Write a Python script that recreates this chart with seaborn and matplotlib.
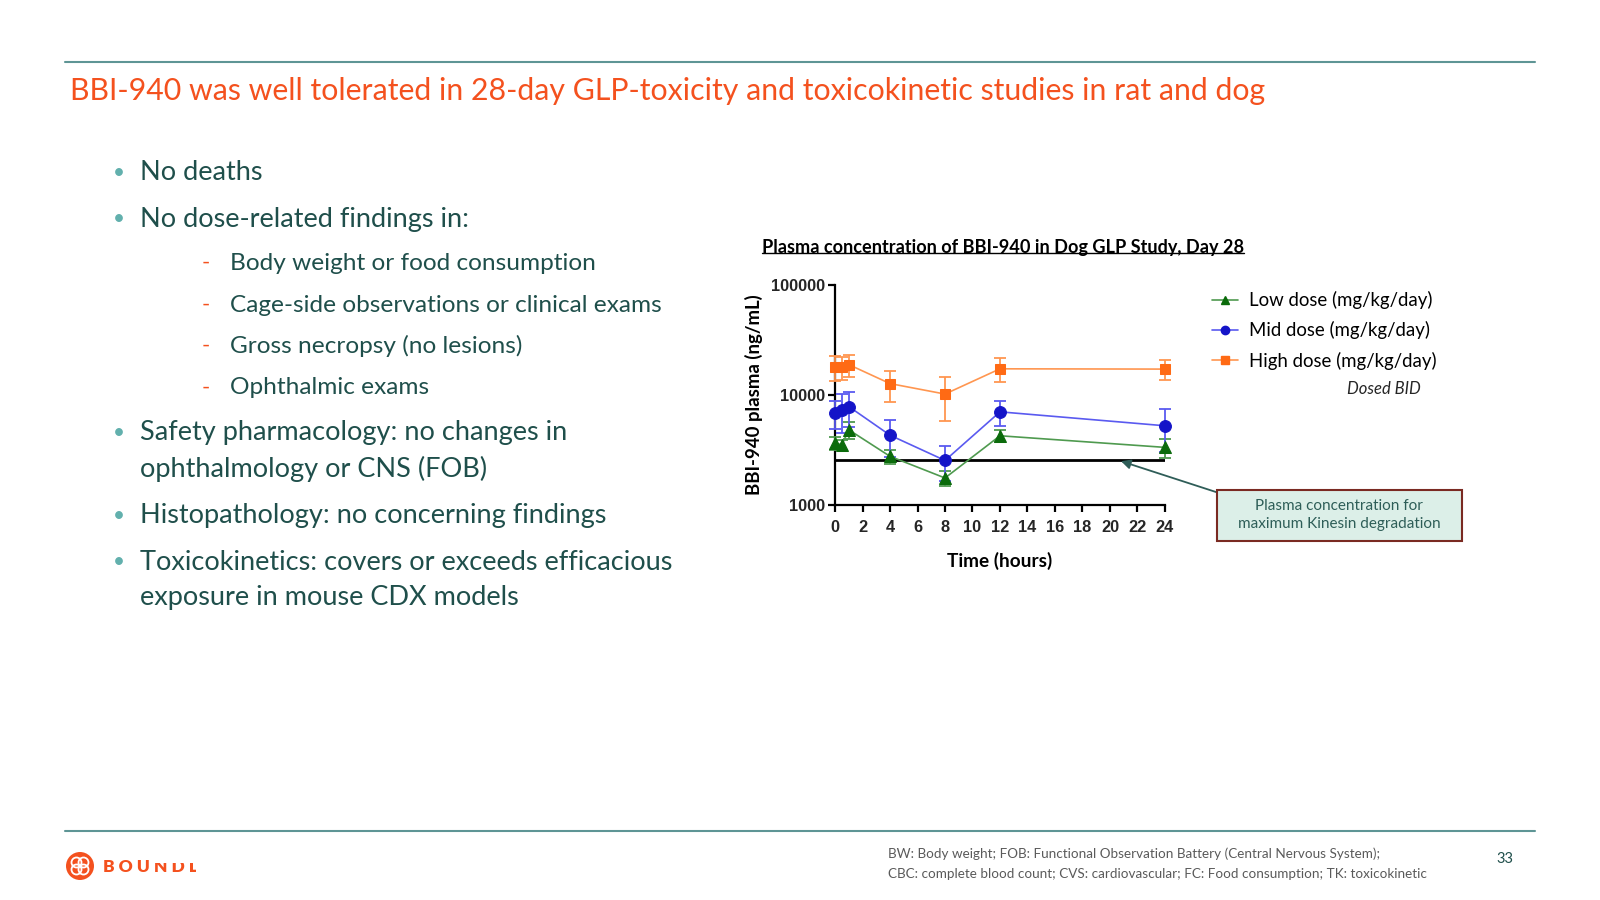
import numpy as np
import pandas as pd
import matplotlib
matplotlib.use('Agg')
import matplotlib.pyplot as plt
import seaborn as sns
from matplotlib.patches import Rectangle, Circle
from matplotlib.lines import Line2D
from matplotlib.ticker import NullLocator

# ---- data ----
times = [0, 0.5, 1, 4, 8, 12, 24]
low_mean = [3650, 3530, 4830, 2770, 1760, 4260, 3340]
low_sd = [500, 380, 870, 400, 260, 520, 650]
mid_mean = [6840, 7330, 7860, 4310, 2540, 7030, 5250]
mid_sd = [1900, 2800, 2700, 1560, 870, 1850, 2230]
high_mean = [17900, 17900, 18900, 12700, 10200, 17300, 17200]
high_sd = [4500, 4200, 4300, 4000, 4450, 4250, 3500]
threshold = 2580  # plasma conc. for maximum Kinesin degradation

dose_labels = ['Low dose (mg/kg/day)', 'Mid dose (mg/kg/day)', 'High dose (mg/kg/day)']
x_ticks = list(range(0, 25, 2))
y_ticks = [1000, 10000, 100000]
y_ticklabels = ['1000', '10000', '100000']

slide_title = 'BBI-940 was well tolerated in 28-day GLP-toxicity and toxicokinetic studies in rat and dog'
chart_title = 'Plasma concentration of BBI-940 in Dog GLP Study, Day 28'
bullet_lines = [
    (0, 'No deaths'),
    (0, 'No dose-related findings in:'),
    (1, 'Body weight or food consumption'),
    (1, 'Cage-side observations or clinical exams'),
    (1, 'Gross necropsy (no lesions)'),
    (1, 'Ophthalmic exams'),
    (0, 'Safety pharmacology: no changes in'),
    (2, 'ophthalmology or CNS (FOB)'),
    (0, 'Histopathology: no concerning findings'),
    (0, 'Toxicokinetics: covers or exceeds efficacious'),
    (2, 'exposure in mouse CDX models'),
]
bullet_y = [173, 219, 263, 305, 346, 388, 433, 469, 516, 562, 598]
footnote = ['BW: Body weight; FOB: Functional Observation Battery (Central Nervous System);',
            'CBC: complete blood count; CVS: cardiovascular; FC: Food consumption; TK: toxicokinetic']
box_text = 'Plasma concentration for\nmaximum Kinesin degradation'

line_colors = ['#4f9a4f', '#5a5af0', '#ff9650']
mark_colors = ['#0b6b0b', '#1414c8', '#ff6a14']
markers = ['^', 'o', 's']

W, H = 1600, 900
def fx(x):
    return x / W
def fy(y):
    return 1 - y / H

teal_dark = '#1f4f4b'
orange = '#f4511e'

sns.set_theme(style='ticks')
plt.rcParams['font.family'] = ['Lato', 'DejaVu Sans']

fig = plt.figure(figsize=(16, 9), dpi=100)
fig.patch.set_facecolor('white')

# header / footer rules
fig.add_artist(Line2D([fx(65), fx(1535)], [fy(62), fy(62)], color='#5e9595', lw=1.5))
fig.add_artist(Line2D([fx(65), fx(1535)], [fy(831), fy(831)], color='#5e9595', lw=1.5))
fig.text(fx(70), fy(91), slide_title, color=orange, fontsize=21.8, va='center')

# bullets
for (lvl, txt), y in zip(bullet_lines, bullet_y):
    if lvl == 0:
        fig.text(fx(113), fy(y), '•', color='#62b0ad', fontsize=15, va='center')
        fig.text(fx(140), fy(y), txt, color=teal_dark, fontsize=19.5, va='center')
    elif lvl == 1:
        fig.text(fx(202), fy(y), '-', color=orange, fontsize=16, va='center')
        fig.text(fx(230), fy(y), txt, color=teal_dark, fontsize=17.6, va='center')
    else:
        fig.text(fx(140), fy(y), txt, color=teal_dark, fontsize=19.5, va='center')

# ---- chart ----
ax = fig.add_axes([fx(835), fy(505), (1165 - 835) / W, (505 - 285) / H])
df = pd.DataFrame({
    'time': times * 3,
    'conc': low_mean + mid_mean + high_mean,
    'dose': [d for d in dose_labels for _ in times],
})
sns.lineplot(data=df, x='time', y='conc', hue='dose', hue_order=dose_labels,
             palette=line_colors, ax=ax, lw=1.2, legend=False)
for ln, mk, mc in zip(ax.lines[:3], markers, mark_colors):
    ln.set_marker(mk)
    ln.set_markersize(8.5 if mk != 's' else 7.5)
    ln.set_markerfacecolor(mc)
    ln.set_markeredgecolor(mc)
    ln.set_clip_on(False)
    ln.set_zorder(4)

for mean, sd, c in zip([low_mean, mid_mean, high_mean], [low_sd, mid_sd, high_sd], line_colors):
    eb = ax.errorbar(times, mean, yerr=sd, fmt='none', ecolor=c, elinewidth=1.3,
                     capsize=4, capthick=1.3, zorder=3)
    for art in eb.lines[1] + eb.lines[2]:
        art.set_clip_on(False)

ax.hlines(threshold, 0, 24, color='black', lw=2, zorder=2)

ax.set_yscale('log')
ax.set_ylim(1000, 100000)
ax.set_xlim(0, 24)
ax.set_xticks(x_ticks)
ax.set_yticks(y_ticks)
ax.set_yticklabels(y_ticklabels)
ax.yaxis.set_minor_locator(NullLocator())
sns.despine(ax=ax)
for s in ['left', 'bottom']:
    ax.spines[s].set_linewidth(1.6)
    ax.spines[s].set_color('black')
ax.tick_params(direction='out', length=5, width=1.6, color='black')
ax.tick_params(axis='x', pad=6)
ax.tick_params(axis='y', pad=2)
for lbl in ax.get_xticklabels() + ax.get_yticklabels():
    lbl.set_family(['Liberation Sans', 'DejaVu Sans'])
    lbl.set_fontweight('bold')
    lbl.set_fontsize(11.8)
ax.set_xlabel('Time (hours)', fontsize=13.7, fontweight='bold', labelpad=12, color='black')
ax.set_ylabel('BBI-940 plasma (ng/mL)', fontsize=13.4, fontweight='bold', labelpad=6, color='black')
ax.set_facecolor('none')
ax.grid(False)

# chart title with underline
t = fig.text(fx(1003), fy(248), chart_title, ha='center', va='center', fontsize=13.1,
             fontweight='bold', color='black')

# legend
handles = [Line2D([], [], color=lc, marker=mk, mfc=mc, mec=mc, ms=6, lw=1.2)
           for lc, mc, mk in zip(line_colors, mark_colors, markers)]
fig.legend(handles, dose_labels, loc='upper left', bbox_to_anchor=(fx(1212), fy(291)),
           frameon=False, fontsize=13.4, handlelength=1.4, handletextpad=0.6,
           labelspacing=0.66, borderpad=0, borderaxespad=0, labelcolor='black')
fig.text(fx(1384), fy(389), 'Dosed BID', style='italic', ha='center', va='center', fontsize=12)

# callout box + arrow
fig.add_artist(Rectangle((fx(1217), fy(541)), (1462 - 1217) / W, (541 - 490) / H,
                         transform=fig.transFigure, facecolor='#dcefe8',
                         edgecolor='#7a2a22', lw=1.5))
fig.text(fx(1339), fy(515), box_text, ha='center', va='center', fontsize=11,
         color='#2e5e58', linespacing=1.35)
ax.annotate('', xy=(20.8, threshold * 0.97), xycoords='data',
            xytext=(1219, H - 493), textcoords='figure pixels',
            arrowprops=dict(arrowstyle='-|>', color='#2f5d58', lw=1.3,
                            mutation_scale=14, shrinkA=0, shrinkB=0),
            annotation_clip=False)

# footer
fig.text(fx(888), fy(854), footnote[0], fontsize=9.75, color='#5a5a5a', va='center')
fig.text(fx(888), fy(874), footnote[1], fontsize=9.75, color='#5a5a5a', va='center')
fig.text(fx(1505), fy(859), '33', fontsize=10.5, color=teal_dark, ha='center', va='center')

# logo
inch = fig.dpi_scale_trans
fig.add_artist(Circle((80 / 100, (H - 866) / 100), 0.14, transform=inch,
                      facecolor=orange, edgecolor='none'))
for dx, dy in [(-3.5, -3.5), (3.5, -3.5), (-3.5, 3.5), (3.5, 3.5)]:
    fig.add_artist(Circle(((80 + dx) / 100, (H - 866 + dy) / 100), 0.05, transform=inch,
                          facecolor='none', edgecolor='white', lw=1.3))
fig.text(fx(103), fy(867), 'B O U N D L E', fontsize=12.5, fontweight='heavy',
         color=orange, va='center')
fig.add_artist(Rectangle((fx(150), fy(863)), 60 / W, 13 / H, transform=fig.transFigure,
                         facecolor='white', edgecolor='none', zorder=10))
fig.add_artist(Rectangle((fx(196), fy(880)), 60 / W, 30 / H, transform=fig.transFigure,
                         facecolor='white', edgecolor='none', zorder=10))

fig.canvas.draw()
bb = t.get_window_extent()
uy = bb.y0 + 0.2 * bb.height
fig.add_artist(Line2D([bb.x0 / W, bb.x1 / W], [uy / H, uy / H], color='black', lw=1.0))

fig.savefig('out.png', dpi=100)
